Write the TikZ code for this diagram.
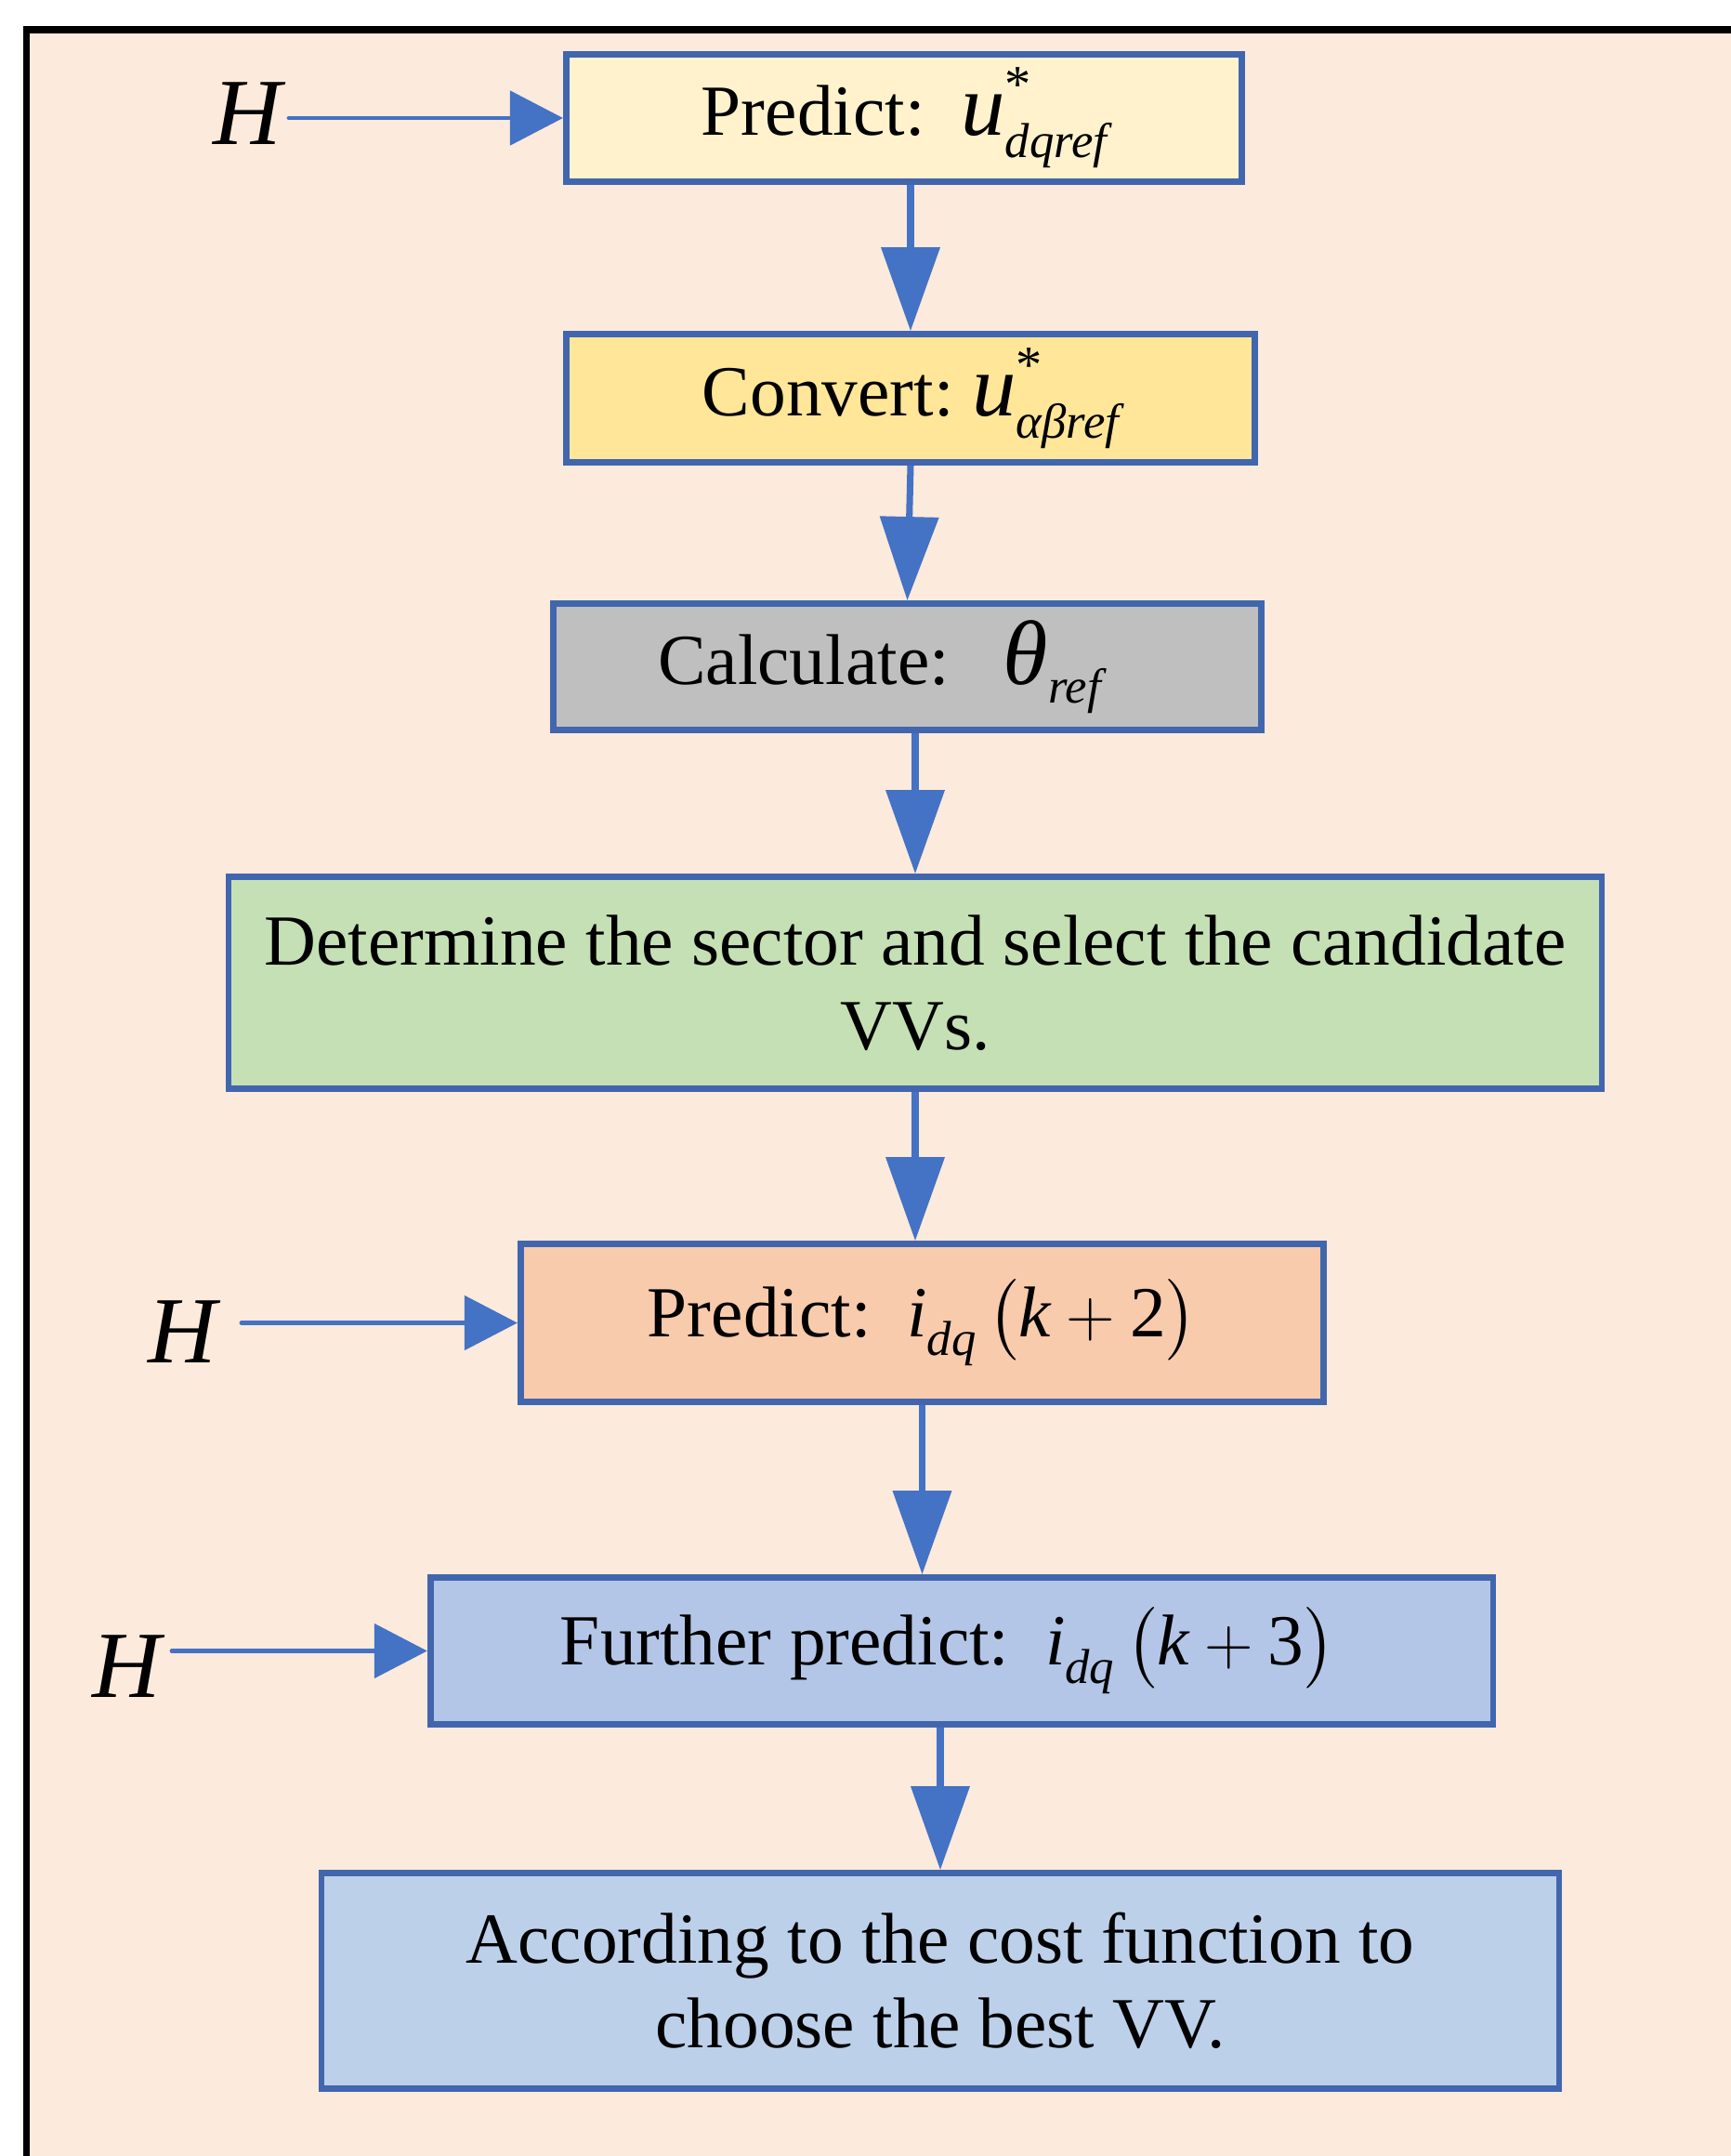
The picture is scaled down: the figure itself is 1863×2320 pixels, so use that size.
\documentclass[tikz,border=0pt]{standalone}
\usepackage{amsmath}
\usepackage{fontspec}
\setmainfont{Liberation Serif}
\usetikzlibrary{arrows.meta}

\definecolor{bgpeach}{HTML}{FCEADC}
\definecolor{boxline}{HTML}{4166AE}
\definecolor{arrowblue}{HTML}{4472C4}
\definecolor{fillpredict}{HTML}{FFF2CC}
\definecolor{fillconvert}{HTML}{FFE699}
\definecolor{fillcalc}{HTML}{BFBFBF}
\definecolor{fillsector}{HTML}{C5E0B4}
\definecolor{fillcurrent}{HTML}{F8CBAD}
\definecolor{fillfurther}{HTML}{B4C6E7}
\definecolor{fillcost}{HTML}{BDD0EA}

\newcommand{\starvar}[2]{{\fontsize{27}{27}\selectfont\itshape #1}%
  \rlap{\raisebox{0.36cm}{\fontsize{16}{16}\selectfont *}}%
  \raisebox{-0.24cm}{\fontsize{15}{15}\selectfont\itshape #2}}
\newcommand{\lowvar}[3][22]{{\fontsize{#1}{#1}\selectfont\itshape #2}%
  \raisebox{-0.2cm}{\fontsize{15}{15}\selectfont\itshape #3}}

\tikzset{
  stepbox/.style={draw=boxline,line width=1.9pt,inner sep=0pt,align=center,
    font=\fontsize{22}{26}\selectfont},
  flow/.style={draw=arrowblue,line width=2pt,-{Triangle[length=0.9cm,width=0.62cm]}},
  feed/.style={draw=arrowblue,line width=1.4pt,line cap=round,-{Triangle[length=0.57cm,width=0.58cm]}},
  hlabel/.style={font=\fontsize{29}{32}\selectfont\itshape,inner sep=0pt}
}

\begin{document}
\begin{tikzpicture}[x=0.01cm,y=-0.01cm,line join=miter]
  \useasboundingbox (0,0) rectangle (1863,2320);
  \fill[white] (0,0) rectangle (1863,2320);
  \fill[bgpeach] (28.5,32) rectangle (1863,2320);
  \draw[line width=2.1pt] (28.5,2330) -- (28.5,32) -- (1873,32);
  \node[stepbox,fill=fillpredict,minimum width=7.27cm,minimum height=1.37cm] (predictu) at (973,127)
    {Predict:\ \ \starvar{u}{dqref}};
  \node[stepbox,fill=fillconvert,minimum width=7.41cm,minimum height=1.38cm] (convert) at (980,428.5)
    {Convert:\ \starvar{u}{αβref}};
  \node[stepbox,fill=fillcalc,minimum width=7.62cm,minimum height=1.36cm] (calc) at (976.5,717.5)
    {Calculate:\ \ \ \lowvar[28]{θ}{ref}\hspace*{0.6cm}};
  \node[stepbox,fill=fillsector,minimum width=14.77cm,minimum height=2.28cm] (sector) at (985,1057.5)
    {Determine the sector and select the candidate\\VVs.};
  \node[stepbox,fill=fillcurrent,minimum width=8.64cm,minimum height=1.70cm] (predicti) at (992.5,1423.5)
    {Predict:\ \ \lowvar{i}{dq}\,$\bigl(\textit{k}+\textup{2}\bigr)$};
  \node[stepbox,fill=fillfurther,minimum width=11.43cm,minimum height=1.58cm] (further) at (1035,1776.5)
    {Further predict:\ \ \lowvar{i}{dq}\,$\bigl(\textit{k}+\textup{3}\bigr)$\hspace*{0.3cm}};
  \node[stepbox,fill=fillcost,minimum width=13.31cm,minimum height=2.32cm] (cost) at (1012,2131.5)
    {According to the cost function to\\choose the best VV.};
  \node[hlabel] (h1) at (266,122) {H};
  \node[hlabel] (h2) at (196,1433) {H};
  \node[hlabel] (h3) at (136,1793) {H};
  \coordinate (h1tail) at (311,127);
  \coordinate (h2tail) at (260,1423.5);
  \coordinate (h3tail) at (185,1776.5);
  \draw[feed] (h1tail) -- (predictu.west);
  \draw[feed] (h2tail) -- (predicti.west);
  \draw[feed] (h3tail) -- (further.west);
  \draw[flow] (predictu.south -| convert.north) -- (convert.north);
  \draw[flow] (convert.south) -- (calc.north);
  \draw[flow] (calc.south -| sector.north) -- (sector.north);
  \draw[flow] (sector.south) -- (sector.south |- predicti.north);
  \draw[flow] (predicti.south) -- (predicti.south |- further.north);
  \draw[flow] (further.south -| cost.north) -- (cost.north);
\end{tikzpicture}
\end{document}
